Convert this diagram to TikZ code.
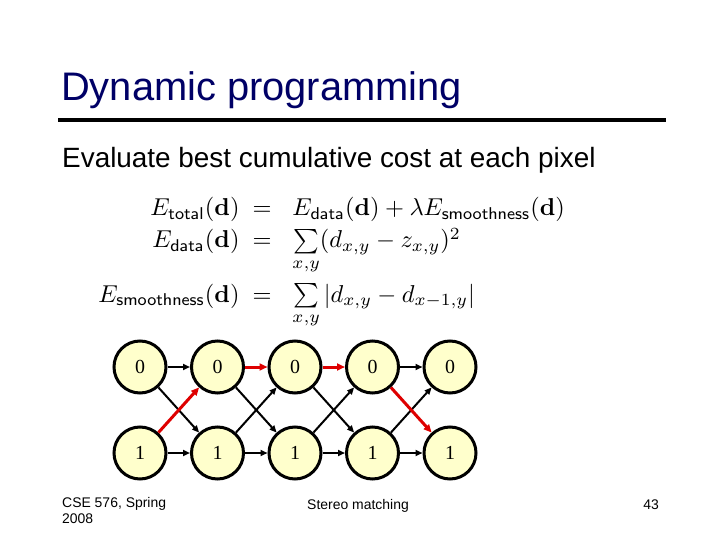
\documentclass[tikz,border=0pt]{standalone}
\usepackage{amsmath}
\usepackage[no-math]{fontspec}
\setmainfont{Liberation Sans}
\newfontfamily\cellfont{Liberation Serif}
\usepackage{xcolor}
\definecolor{slidenavy}{RGB}{0,0,102}
\definecolor{cellyellow}{RGB}{255,255,204}
\definecolor{pathred}{RGB}{222,0,0}
\usepackage{tikz}
\usetikzlibrary{positioning,arrows.meta}
\tikzset{
  cell/.style  ={circle,draw=black,line width=3bp,fill=cellyellow,minimum size=52bp,
                 inner sep=0pt,font=\cellfont\fontsize{20}{24}\selectfont},
  link/.style  ={-{Triangle[length=7bp,width=6bp]},line width=2bp,draw=black},
  best/.style  ={-{Triangle[length=8bp,width=7bp]},line width=3bp,draw=pathred},
  eqn/.style   ={inner sep=0pt,scale=2.45},
  footer/.style={inner sep=0pt,font=\fontsize{14}{16.5}\selectfont},
}

\begin{document}
\begin{tikzpicture}[x=1bp,y=-1bp,node distance=31bp and 22.5bp]
  \useasboundingbox (0,0) rectangle (720,540);
  % title and rule
  \node[anchor=base west,inner sep=0pt,text=slidenavy,font=\fontsize{40}{44}\selectfont]
    (title) at (61,101) {Dynamic programming};
  \draw[line width=4bp] (58,120) -- (666,120);
  \node[anchor=base west,inner sep=0pt,font=\fontsize{28}{32}\selectfont]
    (lead) at (62,168) {Evaluate best cumulative cost at each pixel};
  % energy terms
  \node[eqn,anchor=base east] (lhsA) at (240,216) {$E_{\mathsf{total}}(\mathbf{d})$};
  \node[eqn,anchor=base] (eqA) at (262,216) {$=$};
  \node[eqn,anchor=base west] (rhsA) at (292,216)
    {$E_{\mathsf{data}}(\mathbf{d})+\lambda E_{\mathsf{smoothness}}(\mathbf{d})$};
  \node[eqn,anchor=base east] (lhsB) at (240,248) {$E_{\mathsf{data}}(\mathbf{d})$};
  \node[eqn,anchor=base] (eqB) at (262,248) {$=$};
  \node[eqn,anchor=base west] (rhsB) at (292,248)
    {$\sum\limits_{x,y}(d_{x,y}-z_{x,y})^2$};
  \node[eqn,anchor=base east] (lhsC) at (240,302) {$E_{\mathsf{smoothness}}(\mathbf{d})$};
  \node[eqn,anchor=base] (eqC) at (262,302) {$=$};
  \node[eqn,anchor=base west] (rhsC) at (292,302)
    {$\sum\limits_{x,y}|d_{x,y}-d_{x-1,y}|$};
  % trellis
  \node[cell] (t1) at (140,367) {0};
  \node[cell,right=of t1] (t2) {0};
  \node[cell,right=of t2] (t3) {0};
  \node[cell,right=of t3] (t4) {0};
  \node[cell,right=of t4] (t5) {0};
  \node[cell,below=of t1] (b1) {1};
  \node[cell,right=of b1] (b2) {1};
  \node[cell,right=of b2] (b3) {1};
  \node[cell,right=of b3] (b4) {1};
  \node[cell,right=of b4] (b5) {1};
  \draw[link] (t1) -- (t2);
  \draw[link] (t4) -- (t5);
  \draw[link] (b1) -- (b2);
  \draw[link] (b2) -- (b3);
  \draw[link] (b3) -- (b4);
  \draw[link] (b4) -- (b5);
  \draw[link] (t1) -- (b2);
  \draw[link] (t2) -- (b3);
  \draw[link] (b2) -- (t3);
  \draw[link] (t3) -- (b4);
  \draw[link] (b3) -- (t4);
  \draw[link] (b4) -- (t5);
  \draw[best] (b1) -- (t2);
  \draw[best] (t2) -- (t3);
  \draw[best] (t3) -- (t4);
  \draw[best] (t4) -- (b5);
  % footer
  \node[footer,anchor=north west,align=left] (course) at (62,497) {CSE 576, Spring\\2008};
  \node[footer,anchor=base] (topic) at (358,509) {Stereo matching};
  \node[footer,anchor=base east] (page) at (659,509) {43};
\end{tikzpicture}
\end{document}
